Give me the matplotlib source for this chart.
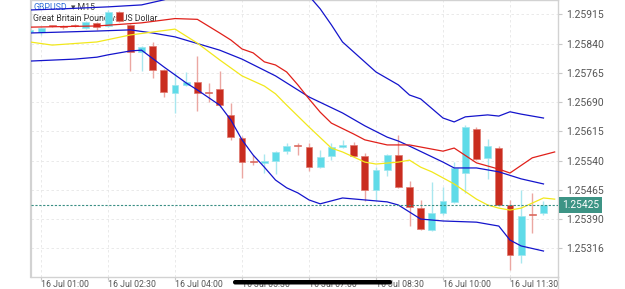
import matplotlib.pyplot as plt
from matplotlib.patches import FancyBboxPatch
from matplotlib.transforms import ScaledTranslation, IdentityTransform, blended_transform_factory

plt.rcParams['font.family'] = ['Roboto', 'DejaVu Sans']

# GBPUSD M15 candles, 16 Jul 00:45 .. 12:15 (one entry per candle)
opens = [1.25870, 1.25870, 1.25886, 1.25884, 1.25886, 1.25879, 1.25893, 1.25885, 1.25920, 1.25887,
         1.25819, 1.25834, 1.25772, 1.25713, 1.25734, 1.25741, 1.25714, 1.25723, 1.25657, 1.25597,
         1.25536, 1.25534, 1.25540, 1.25564, 1.25578, 1.25574, 1.25524, 1.25552, 1.25575, 1.25580,
         1.25552, 1.25464, 1.25516, 1.25554, 1.25471, 1.25419, 1.25362, 1.25406, 1.25434, 1.25507,
         1.25621, 1.25546, 1.25571, 1.25426, 1.25298, 1.25402, 1.25405]
highs = [1.25877, 1.25882, 1.25888, 1.25888, 1.25889, 1.25898, 1.25895, 1.25925, 1.25923, 1.25890,
         1.25834, 1.25845, 1.25775, 1.25767, 1.25768, 1.25808, 1.25739, 1.25769, 1.25688, 1.25603,
         1.25554, 1.25556, 1.25565, 1.25586, 1.25586, 1.25584, 1.25567, 1.25584, 1.25593, 1.25588,
         1.25559, 1.25523, 1.25556, 1.25605, 1.25488, 1.25439, 1.25486, 1.25473, 1.25537, 1.25631,
         1.25627, 1.25594, 1.25576, 1.25439, 1.25464, 1.25458, 1.25435]
lows = [1.25867, 1.25862, 1.25883, 1.25878, 1.25882, 1.25877, 1.25875, 1.25882, 1.25895, 1.25770,
        1.25770, 1.25752, 1.25703, 1.25662, 1.25730, 1.25668, 1.25690, 1.25677, 1.25593, 1.25494,
        1.25529, 1.25507, 1.25505, 1.25556, 1.25554, 1.25513, 1.25522, 1.25541, 1.25571, 1.25550,
        1.25437, 1.25439, 1.25501, 1.25470, 1.25373, 1.25362, 1.25360, 1.25400, 1.25432, 1.25456,
        1.25541, 1.25492, 1.25423, 1.25259, 1.25278, 1.25355, 1.25400]
closes = [1.25875, 1.25879, 1.25885, 1.25883, 1.25885, 1.25896, 1.25883, 1.25922, 1.25898, 1.25817,
          1.25832, 1.25772, 1.25717, 1.25734, 1.25742, 1.25714, 1.25713, 1.25682, 1.25601, 1.25535,
          1.25535, 1.25540, 1.25563, 1.25577, 1.25577, 1.25524, 1.25550, 1.25574, 1.25581, 1.25552,
          1.25464, 1.25516, 1.25554, 1.25473, 1.25420, 1.25364, 1.25405, 1.25436, 1.25520, 1.25627,
          1.25544, 1.25577, 1.25426, 1.25298, 1.25398, 1.25401, 1.25425]

# indicator lines (candle index, price)
bb_upper_idx = [0, 3, 7, 10, 12, 14, 17, 20, 23, 25, 26, 27, 28, 31, 33, 34, 35, 37, 38, 39, 41, 42, 43, 44, 46]
bb_upper = [1.25926, 1.25929, 1.25934, 1.25939, 1.25952, 1.25970, 1.25982, 1.26016, 1.25998, 1.25962,
            1.25929, 1.25888, 1.25844, 1.25767, 1.25734, 1.25708, 1.25698, 1.25649, 1.25639, 1.25652,
            1.25657, 1.25654, 1.25665, 1.25659, 1.25649]
bb_mid_idx = [0, 6, 9, 11, 13, 17, 19, 22, 25, 28, 30, 32, 33, 34, 37, 38, 40, 42, 44, 46]
bb_mid = [1.25867, 1.25872, 1.25875, 1.25867, 1.25857, 1.25823, 1.25800, 1.25757, 1.25703, 1.25662,
          1.25629, 1.25600, 1.25590, 1.25577, 1.25536, 1.25521, 1.25521, 1.25511, 1.25493, 1.25480]
bb_lower_idx = [0, 4, 6, 7, 9, 10, 12, 14, 15, 17, 18, 19, 20, 21, 22, 23, 24, 25, 26, 28, 30, 32,
                33, 35, 37, 40, 42, 43, 44, 46]
bb_lower = [1.25795, 1.25800, 1.25805, 1.25811, 1.25821, 1.25823, 1.25780, 1.25739, 1.25721, 1.25682,
            1.25644, 1.25593, 1.25554, 1.25523, 1.25490, 1.25470, 1.25457, 1.25439, 1.25429, 1.25444,
            1.25439, 1.25434, 1.25426, 1.25390, 1.25385, 1.25382, 1.25372, 1.25336, 1.25321, 1.25308]
red_idx = [0, 6, 10, 13, 15, 17, 18, 19, 20, 21, 22, 23, 24, 25, 26, 27, 29, 30, 32, 34, 37, 38, 40,
           42, 43, 45, 47]
red_ma = [1.25882, 1.25885, 1.25893, 1.25904, 1.25902, 1.25867, 1.25849, 1.25826, 1.25816, 1.25793,
          1.25785, 1.25767, 1.25734, 1.25698, 1.25664, 1.25636, 1.25608, 1.25593, 1.25580, 1.25580,
          1.25564, 1.25572, 1.25534, 1.25518, 1.25508, 1.25547, 1.25562]
yellow_idx = [0, 2, 6, 9, 13, 15, 17, 19, 21, 22, 23, 25, 27, 28, 30, 31, 33, 34, 35, 36, 38, 40, 41,
              42, 43, 44, 45, 46, 47]
yellow_ma = [1.25844, 1.25836, 1.25844, 1.25862, 1.25877, 1.25841, 1.25798, 1.25757, 1.25731, 1.25711,
             1.25682, 1.25626, 1.25572, 1.25562, 1.25536, 1.25531, 1.25536, 1.25541, 1.25523, 1.25511,
             1.25480, 1.25441, 1.25426, 1.25418, 1.25413, 1.25418, 1.25431, 1.25444, 1.25441]

last_price = 1.25425
price_ticks = [1.25915, 1.25840, 1.25765, 1.25690, 1.25615, 1.25540, 1.25465, 1.25390, 1.25316]
price_labels = ["1.25915", "1.25840", "1.25765", "1.25690", "1.25615", "1.25540", "1.25465",
                "1.25390", "1.25316"]
time_ticks = [1, 7, 13, 19, 25, 31, 37, 43]
time_labels = ["16 Jul 01:00", "16 Jul 02:30", "16 Jul 04:00", "16 Jul 05:30",
               "16 Jul 07:00", "16 Jul 08:30", "16 Jul 10:00", "16 Jul 11:30"]

W, H = 625, 289
fig = plt.figure(figsize=(W / 100, H / 100), dpi=100)
ax = fig.add_axes([31 / W, 12 / H, 527 / W, 277 / H])

# candles
up_col, dn_col = "#5fdbe8", "#c92d1f"
up_wick, dn_wick = "#a9e7ef", "#eba7a2"
idx = list(range(len(opens)))
for i in idx:
    o, h, l, c = opens[i], highs[i], lows[i], closes[i]
    up = c > o
    ax.vlines(i, l, h, color=up_wick if up else dn_wick, lw=1.0, zorder=2)
    body = max(abs(c - o), 0.00003)
    ax.bar(i, body, bottom=min(o, c), width=0.62,
           color=up_col if up else dn_col,
           edgecolor="#9ee6ef" if up else "#e0786e", lw=0.5, zorder=3)

# indicator lines
ax.plot(bb_upper_idx, bb_upper, color="#1414cc", lw=0.9, zorder=4)
ax.plot(bb_mid_idx, bb_mid, color="#1414cc", lw=0.9, zorder=4)
ax.plot(bb_lower_idx, bb_lower, color="#1414cc", lw=0.9, zorder=4)
ax.plot(red_idx, red_ma, color="#e0201a", lw=0.9, zorder=4)
ax.plot(yellow_idx, yellow_ma, color="#f2e81c", lw=0.9, zorder=4)

# current price
ax.axhline(last_price, color="#3a8f84", lw=0.8, ls=(0, (2, 1.5)), zorder=5)
tr = blended_transform_factory(ax.transAxes, ax.transData)
ax.text(1.0075, last_price, "1.25425", transform=tr, color="white", fontsize=7.3,
        va="center", ha="left", zorder=6, clip_on=False,
        bbox=dict(boxstyle="square,pad=0.3", fc="#3d9485", ec="none"))

ax.set_xlim(0.1, 47.3)
ax.set_ylim(1.252414, 1.259516)

ax.yaxis.tick_right()
ax.set_yticks(price_ticks)
ax.set_yticklabels(price_labels)
ax.set_xticks(time_ticks)
ax.set_xticklabels(time_labels, ha="left")
off = ScaledTranslation(2 / 72, 0, fig.dpi_scale_trans)
for lab in ax.get_xticklabels():
    lab.set_transform(lab.get_transform() + off)

ax.tick_params(axis="y", length=3, color="#c8c8c8", labelsize=7.5, labelcolor="#555555", pad=3)
ax.tick_params(axis="x", length=2, color="#c8c8c8", labelsize=6.3, labelcolor="#555555", pad=0.5)
ax.grid(True, color="#e6e6e6", ls=(0, (3, 3)), lw=0.6, zorder=0)
for side in ["top", "right", "bottom"]:
    ax.spines[side].set_color("#d2d2d2")
    ax.spines[side].set_linewidth(1.0)
ax.spines["left"].set_color("#d2d2d2")
ax.spines["left"].set_linewidth(1.6)

# symbol legend (sits under the candles)
ax.text(0.0038, 0.973, "GBPUSD", transform=ax.transAxes, color="#2f6fd8", fontsize=6.3,
        va="center", ha="left", zorder=1)
ax.text(0.075, 0.973, "▾ M15", transform=ax.transAxes, color="#444444", fontsize=6.3,
        va="center", ha="left", zorder=1)
ax.text(0.0038, 0.933, "Great Britain Pound vs US Dollar", transform=ax.transAxes,
        color="#333333", fontsize=6.3, va="center", ha="left", zorder=1)

# right border continues to the bottom edge
fig.add_artist(plt.Line2D([558 / W, 558 / W], [0, 12 / H], color="#d2d2d2", lw=1.0,
                          transform=fig.transFigure))

# phone home indicator over the time axis
fig.add_artist(FancyBboxPatch((233, 289 - 284.5), 159, 4.5, boxstyle="round,pad=0,rounding_size=2.2",
                              fc="black", ec="none", transform=IdentityTransform(), zorder=10))

fig.savefig("out.png", dpi=100)
